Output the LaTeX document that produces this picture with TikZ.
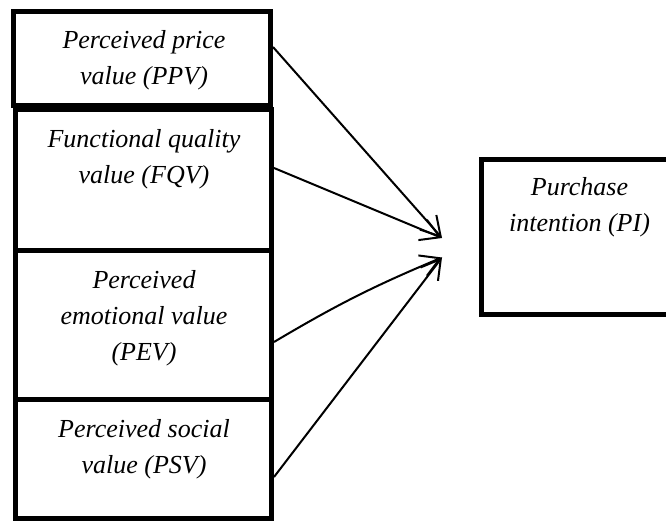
\documentclass[tikz,border=0pt]{standalone}
\usepackage{fontspec}
\setmainfont{Liberation Serif}
\usetikzlibrary{arrows.meta}
\begin{document}
\begin{tikzpicture}[x=1pt,y=-1pt,
  box/.style={draw,line width=5pt,rectangle,inner sep=0pt,minimum width=#1},
  box/.default=256pt,
  lbl/.style={anchor=north,inner sep=0pt,align=center,font=\itshape\fontsize{26}{36}\selectfont},
  conn/.style={line width=2pt,-{Straight Barb[length=19pt,width=22pt,line width=2pt]}}]
\useasboundingbox (0,0) rectangle (666,521);
\clip (0,0) rectangle (666,521);
% boxes
\node[box=257pt,minimum height=94.5pt] (ppv) at (142,58.75) {};
\node[box,minimum height=141pt] (fqv) at (143.5,180.5) {};
\node[box,minimum height=148pt] (pev) at (143.5,325) {};
\node[box,minimum height=119.5pt] (psv) at (143.5,458.75) {};
\node[box=219pt,minimum height=155pt] (pi) at (591,237) {};
% labels
\node[lbl] (tppv) at (144,28) {\rule{0pt}{20pt}Perceived price\\value (PPV)};
\node[lbl] (tfqv) at (144,127) {\rule{0pt}{20pt}Functional quality\\value (FQV)};
\node[lbl] (tpev) at (144,268) {\rule{0pt}{20pt}Perceived\\emotional value\\(PEV)};
\node[lbl] (tpsv) at (144,417) {\rule{0pt}{20pt}Perceived social\\value (PSV)};
\node[lbl] (tpi) at (579.5,175) {\rule{0pt}{20pt}Purchase\\intention (PI)};
% arrow tips
\coordinate (t1) at (442,238);
\coordinate (t2) at (442,257.5);
% connectors
\draw[conn] ([yshift=11.75pt]ppv.east) -- (t1);
\draw[conn] ([yshift=12.5pt]fqv.east) -- (t1);
\draw[conn] ([yshift=-17pt]pev.east) to[bend left=4] (t2);
\draw[conn] ([yshift=-18.25pt]psv.east) -- (t2);
\end{tikzpicture}
\end{document}
